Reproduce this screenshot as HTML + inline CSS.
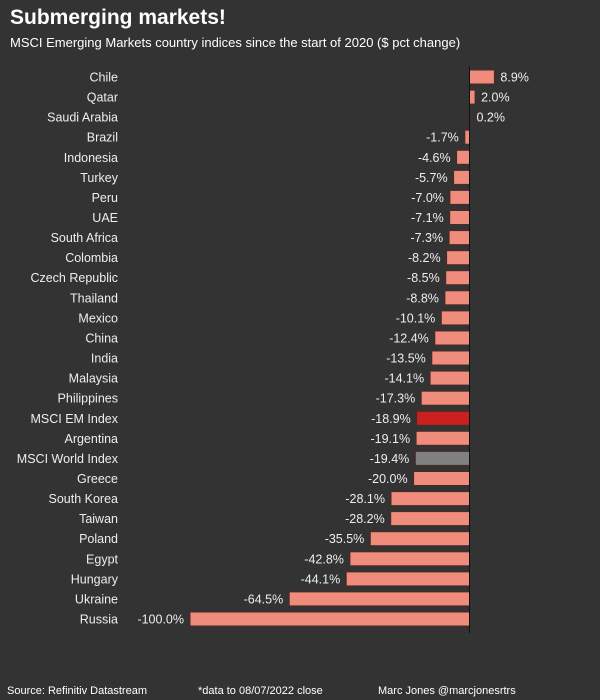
<!DOCTYPE html>
<html><head><meta charset="utf-8"><style>
html,body{margin:0;padding:0;background:#333333;}
svg{display:block;font-family:"Liberation Sans",sans-serif;}
</style></head><body>
<svg width="600" height="700" viewBox="0 0 600 700" xmlns="http://www.w3.org/2000/svg">
<rect width="600" height="700" fill="#333333"/>
<text x="10" y="24" font-size="21" font-weight="bold" fill="#ffffff">Submerging markets!</text>
<text x="10" y="47" font-size="13" fill="#ffffff">MSCI Emerging Markets country indices since the start of 2020 ($ pct change)</text>
<g stroke="#4a2a26" stroke-width="1" fill="#f08c7c">
<rect x="469.5" y="70" width="24.9" height="14"/>
<rect x="469.5" y="90.1" width="5.6" height="14"/>
<rect x="469.5" y="110.2" width="1" height="14"/>
<rect x="464.8" y="130.2" width="4.7" height="14"/>
<rect x="456.6" y="150.3" width="12.9" height="14"/>
<rect x="453.6" y="170.4" width="15.9" height="14"/>
<rect x="449.9" y="190.4" width="19.6" height="14"/>
<rect x="449.7" y="210.5" width="19.8" height="14"/>
<rect x="449.1" y="230.6" width="20.4" height="14"/>
<rect x="446.6" y="250.7" width="22.9" height="14"/>
<rect x="445.7" y="270.7" width="23.8" height="14"/>
<rect x="444.9" y="290.8" width="24.6" height="14"/>
<rect x="441.3" y="310.9" width="28.2" height="14"/>
<rect x="434.8" y="331" width="34.7" height="14"/>
<rect x="431.8" y="351" width="37.7" height="14"/>
<rect x="430.1" y="371.1" width="39.4" height="14"/>
<rect x="421.2" y="391.2" width="48.3" height="14"/>
<rect x="416.7" y="411.3" width="52.8" height="14" fill="#cc2020"/>
<rect x="416.1" y="431.3" width="53.4" height="14"/>
<rect x="415.3" y="451.4" width="54.2" height="14" fill="#808080"/>
<rect x="413.6" y="471.5" width="55.9" height="14"/>
<rect x="391" y="491.6" width="78.5" height="14"/>
<rect x="390.7" y="511.6" width="78.8" height="14"/>
<rect x="370.3" y="531.7" width="99.2" height="14"/>
<rect x="349.9" y="551.8" width="119.6" height="14"/>
<rect x="346.2" y="571.9" width="123.3" height="14"/>
<rect x="289.2" y="591.9" width="180.3" height="14"/>
<rect x="190" y="612" width="279.5" height="14"/>
</g>
<line x1="469.5" y1="66" x2="469.5" y2="633" stroke="#111" stroke-width="1"/>
<g font-size="12.5" fill="#eeeeee" text-anchor="end">
<text x="118" y="81.5">Chile</text>
<text x="118" y="101.6">Qatar</text>
<text x="118" y="121.7">Saudi Arabia</text>
<text x="118" y="141.7">Brazil</text>
<text x="118" y="161.8">Indonesia</text>
<text x="118" y="181.9">Turkey</text>
<text x="118" y="201.9">Peru</text>
<text x="118" y="222">UAE</text>
<text x="118" y="242.1">South Africa</text>
<text x="118" y="262.2">Colombia</text>
<text x="118" y="282.2">Czech Republic</text>
<text x="118" y="302.3">Thailand</text>
<text x="118" y="322.4">Mexico</text>
<text x="118" y="342.5">China</text>
<text x="118" y="362.5">India</text>
<text x="118" y="382.6">Malaysia</text>
<text x="118" y="402.7">Philippines</text>
<text x="118" y="422.8">MSCI EM Index</text>
<text x="118" y="442.8">Argentina</text>
<text x="118" y="462.9">MSCI World Index</text>
<text x="118" y="483">Greece</text>
<text x="118" y="503.1">South Korea</text>
<text x="118" y="523.1">Taiwan</text>
<text x="118" y="543.2">Poland</text>
<text x="118" y="563.3">Egypt</text>
<text x="118" y="583.4">Hungary</text>
<text x="118" y="603.4">Ukraine</text>
<text x="118" y="623.5">Russia</text>
<text x="458.8" y="141.7">-1.7%</text>
<text x="450.6" y="161.8">-4.6%</text>
<text x="447.6" y="181.9">-5.7%</text>
<text x="443.9" y="201.9">-7.0%</text>
<text x="443.7" y="222">-7.1%</text>
<text x="443.1" y="242.1">-7.3%</text>
<text x="440.6" y="262.2">-8.2%</text>
<text x="439.7" y="282.2">-8.5%</text>
<text x="438.9" y="302.3">-8.8%</text>
<text x="435.3" y="322.4">-10.1%</text>
<text x="428.8" y="342.5">-12.4%</text>
<text x="425.8" y="362.5">-13.5%</text>
<text x="424.1" y="382.6">-14.1%</text>
<text x="415.2" y="402.7">-17.3%</text>
<text x="410.7" y="422.8">-18.9%</text>
<text x="410.1" y="442.8">-19.1%</text>
<text x="409.3" y="462.9">-19.4%</text>
<text x="407.6" y="483">-20.0%</text>
<text x="385" y="503.1">-28.1%</text>
<text x="384.7" y="523.1">-28.2%</text>
<text x="364.3" y="543.2">-35.5%</text>
<text x="343.9" y="563.3">-42.8%</text>
<text x="340.2" y="583.4">-44.1%</text>
<text x="283.2" y="603.4">-64.5%</text>
<text x="184" y="623.5">-100.0%</text>
</g>
<g font-size="12.5" fill="#eeeeee">
<text x="500.4" y="81.5">8.9%</text>
<text x="481.1" y="101.6">2.0%</text>
<text x="476.5" y="121.7">0.2%</text>
</g>
<text x="7" y="694" font-size="11" fill="#ffffff">Source: Refinitiv Datastream</text>
<text x="198" y="694" font-size="11" fill="#ffffff">*data to 08/07/2022 close</text>
<text x="378" y="694" font-size="11" fill="#ffffff">Marc Jones @marcjonesrtrs</text>
</svg>
</body></html>
